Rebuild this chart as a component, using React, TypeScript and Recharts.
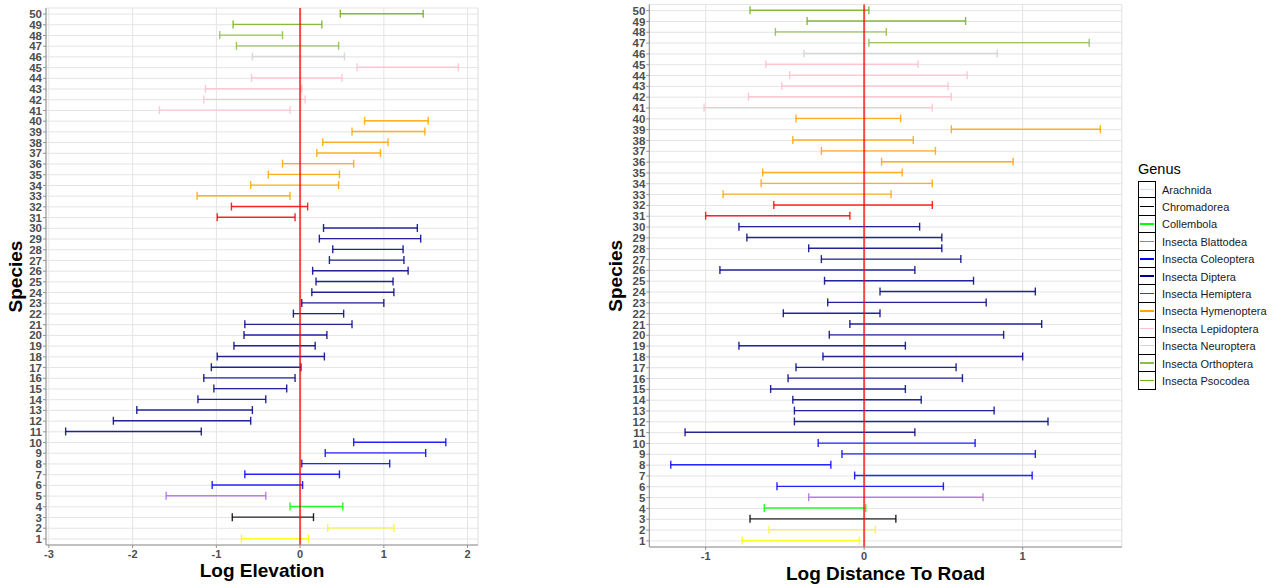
import React from "react";
import { ComposedChart, Bar, XAxis, YAxis, CartesianGrid, ReferenceLine, Label } from "recharts";

// species 1..50, bottom to top
const species = [
  "1", "2", "3", "4", "5", "6", "7", "8", "9", "10",
  "11", "12", "13", "14", "15", "16", "17", "18", "19", "20",
  "21", "22", "23", "24", "25", "26", "27", "28", "29", "30",
  "31", "32", "33", "34", "35", "36", "37", "38", "39", "40",
  "41", "42", "43", "44", "45", "46", "47", "48", "49", "50",
];

const genusNames = [
  "Arachnida", "Chromadorea", "Collembola", "Insecta Blattodea", "Insecta Coleoptera", "Insecta Diptera",
  "Insecta Hemiptera", "Insecta Hymenoptera", "Insecta Lepidoptera", "Insecta Neuroptera",
  "Insecta Orthoptera", "Insecta Psocodea",
];
// how many consecutive species belong to each genus
const genusCounts = [2, 1, 1, 1, 5, 20, 2, 8, 5, 1, 2, 2];
const genusColors = [
  "#FFFF00", "#000000", "#00FF00", "#B266EE", "#0000FF", "#00008B",
  "#FF0000", "#FFA500", "#FFC0CB", "#D3D3D3", "#8CBE45", "#72B01A",
];

const elevLow = [
  -0.70, 0.33, -0.81, -0.12, -1.60, -1.05, -0.66, 0.02, 0.30, 0.64,
  -2.80, -2.23, -1.95, -1.22, -1.03, -1.15, -1.06, -0.99, -0.79, -0.67,
  -0.66, -0.08, 0.02, 0.14, 0.19, 0.15, 0.35, 0.39, 0.23, 0.28,
  -0.99, -0.82, -1.23, -0.59, -0.38, -0.21, 0.20, 0.27, 0.62, 0.77,
  -1.68, -1.15, -1.13, -0.58, 0.68, -0.57, -0.76, -0.96, -0.80, 0.48,
];
const elevHigh = [
  0.10, 1.12, 0.16, 0.51, -0.41, 0.03, 0.47, 1.07, 1.50, 1.74,
  -1.18, -0.59, -0.57, -0.41, -0.16, -0.06, 0.01, 0.29, 0.18, 0.32,
  0.62, 0.52, 1.00, 1.12, 1.11, 1.29, 1.24, 1.23, 1.44, 1.40,
  -0.06, 0.09, -0.12, 0.46, 0.47, 0.64, 0.96, 1.05, 1.49, 1.53,
  -0.12, 0.06, 0.02, 0.50, 1.89, 0.53, 0.46, -0.21, 0.26, 1.47,
];
const roadLow = [
  -0.77, -0.60, -0.72, -0.63, -0.35, -0.55, -0.06, -1.22, -0.14, -0.29,
  -1.13, -0.44, -0.44, -0.45, -0.59, -0.48, -0.43, -0.26, -0.79, -0.22,
  -0.09, -0.51, -0.23, 0.10, -0.25, -0.91, -0.27, -0.35, -0.74, -0.79,
  -1.00, -0.57, -0.89, -0.65, -0.64, 0.11, -0.27, -0.45, 0.55, -0.43,
  -1.01, -0.73, -0.52, -0.47, -0.62, -0.38, 0.03, -0.56, -0.36, -0.72,
];
const roadHigh = [
  -0.03, 0.07, 0.20, 0.01, 0.75, 0.50, 1.06, -0.21, 1.08, 0.70,
  0.32, 1.16, 0.82, 0.36, 0.26, 0.62, 0.58, 1.00, 0.26, 0.88,
  1.12, 0.10, 0.77, 1.08, 0.69, 0.32, 0.61, 0.49, 0.49, 0.35,
  -0.09, 0.43, 0.17, 0.43, 0.24, 0.94, 0.45, 0.31, 1.49, 0.23,
  0.43, 0.55, 0.53, 0.65, 0.34, 0.84, 1.42, 0.14, 0.64, 0.03,
];

const elevMajor = [-3, -2, -1, 0, 1, 2];
const elevMinor = [-3, -2.5, -2, -1.5, -1, -0.5, 0, 0.5, 1, 1.5, 2];
const roadMajor = [-1, 0, 1];
const roadMinor = [-1, -0.5, 0, 0.5, 1, 1.5];

const FONT = '"Liberation Sans", Arial, sans-serif';
const BORDER = "#8f8f8f";

const genusOf: number[] = [];
genusCounts.forEach((n, g) => {
  for (let k = 0; k < n; k++) genusOf.push(g);
});

const ErrBar = (props: any) => {
  const { x, y, width, height, payload } = props;
  const color = genusColors[payload.genus];
  const cy = y + height / 2;
  const x2 = x + width;
  return (
    <g stroke={color} strokeWidth={1.4} strokeOpacity={0.85}>
      <line x1={x} x2={x2} y1={cy} y2={cy} />
      <line x1={x} x2={x} y1={cy - 4} y2={cy + 4} />
      <line x1={x2} x2={x2} y1={cy - 4} y2={cy + 4} />
    </g>
  );
};

type PanelProps = {
  low: number[];
  high: number[];
  title: string;
  major: number[];
  minor: number[];
  width: number;
  top: number;
  right: number;
  yWidth: number;
  xHeight: number;
  titleDy: number;
};

const Panel = ({ low, high, title, major, minor, width, top, right, yWidth, xHeight, titleDy }: PanelProps) => {
  const rows = species
    .map((s, i) => ({ species: s, range: [low[i], high[i]], genus: genusOf[i] }))
    .reverse();
  const lo = Math.min(...low);
  const hi = Math.max(...high);
  const pad = (hi - lo) * 0.05;
  const domain: [number, number] = [lo - pad, hi + pad];
  const tickStyle = { fill: "#4d4d4d", fontSize: 11.5, fontWeight: "bold", fontFamily: FONT };

  return (
    <ComposedChart
      width={width}
      height={585}
      data={rows}
      layout="vertical"
      margin={{ top, right, bottom: 0, left: 0 }}
      barCategoryGap={0}
    >
      <CartesianGrid xAxisId="top" horizontal={false} stroke="#f1f1f1" />
      <CartesianGrid stroke="#e4e4e4" />
      <XAxis
        type="number"
        dataKey="range"
        domain={domain}
        ticks={major}
        allowDataOverflow
        height={xHeight}
        tickSize={3}
        tickMargin={2}
        tick={{ ...tickStyle, fontSize: 11 }}
        tickLine={{ stroke: BORDER }}
        axisLine={{ stroke: BORDER }}
      >
        <Label
          content={({ viewBox }: any) => (
            <text
              x={viewBox.x + viewBox.width / 2}
              y={viewBox.y + titleDy}
              textAnchor="middle"
              fontFamily={FONT}
              fontWeight="bold"
              fontSize={19}
              fill="#000"
            >
              {title}
            </text>
          )}
        />
      </XAxis>
      <XAxis
        xAxisId="top"
        orientation="top"
        type="number"
        domain={domain}
        ticks={minor}
        allowDataOverflow
        height={0}
        tick={false}
        tickLine={false}
        axisLine={{ stroke: BORDER }}
      />
      <YAxis
        type="category"
        dataKey="species"
        width={yWidth}
        padding={{ top: 0.7, bottom: 0.7 }}
        interval={0}
        tickSize={3}
        tickMargin={1}
        tick={tickStyle}
        tickLine={{ stroke: BORDER }}
        axisLine={{ stroke: BORDER }}
      >
        <Label
          content={({ viewBox }: any) => {
            const bx = viewBox.x + 21.5;
            const cy = viewBox.y + viewBox.height / 2;
            return (
              <text
                x={bx}
                y={cy}
                transform={`rotate(-90 ${bx} ${cy})`}
                textAnchor="middle"
                fontFamily={FONT}
                fontWeight="bold"
                fontSize={19}
                fill="#000"
              >
                Species
              </text>
            );
          }}
        />
      </YAxis>
      <YAxis
        yAxisId="right"
        orientation="right"
        type="category"
        dataKey="species"
        width={0}
        padding={{ top: 0.7, bottom: 0.7 }}
        tick={false}
        tickLine={false}
        axisLine={{ stroke: BORDER }}
      />
      <Bar dataKey="range" barSize={6} isAnimationActive={false} shape={<ErrBar />} />
      <ReferenceLine x={0} stroke="#ff0000" strokeWidth={2} strokeOpacity={0.7} />
    </ComposedChart>
  );
};

const Legend = () => (
  <div style={{ position: "absolute", left: 1138, top: 160, fontFamily: FONT }}>
    <div style={{ fontSize: 14.5, color: "#000", height: 21, lineHeight: "19px" }}>Genus</div>
    {genusNames.map((name, i) => (
      <div key={name} style={{ display: "flex", alignItems: "center", height: 17.4 }}>
        <div
          style={{
            width: 18,
            height: 17.4,
            boxSizing: "border-box",
            border: "1px solid #000",
            borderTop: i === 0 ? "1px solid #000" : "none",
            display: "flex",
            alignItems: "center",
            justifyContent: "center",
          }}
        >
          <div style={{ width: 14, height: 1.5, background: genusColors[i] }} />
        </div>
        <span style={{ marginLeft: 6, fontSize: 11, color: "#1a1a1a", whiteSpace: "nowrap" }}>{name}</span>
      </div>
    ))}
  </div>
);

export default function App() {
  return (
    <div style={{ position: "absolute", left: 0, top: 0, width: 1275, height: 585, background: "#fff" }}>
      <div style={{ position: "absolute", left: 0, top: 0 }}>
        <Panel
          low={elevLow}
          high={elevHigh}
          title="Log Elevation"
          major={elevMajor}
          minor={elevMinor}
          width={486}
          top={8}
          right={8}
          yWidth={46}
          xHeight={40}
          titleDy={31.5}
        />
      </div>
      <div style={{ position: "absolute", left: 600, top: 0 }}>
        <Panel
          low={roadLow}
          high={roadHigh}
          title="Log Distance To Road"
          major={roadMajor}
          minor={roadMinor}
          width={530}
          top={4.5}
          right={8.2}
          yWidth={49.3}
          xHeight={38}
          titleDy={33}
        />
      </div>
      <Legend />
    </div>
  );
}
